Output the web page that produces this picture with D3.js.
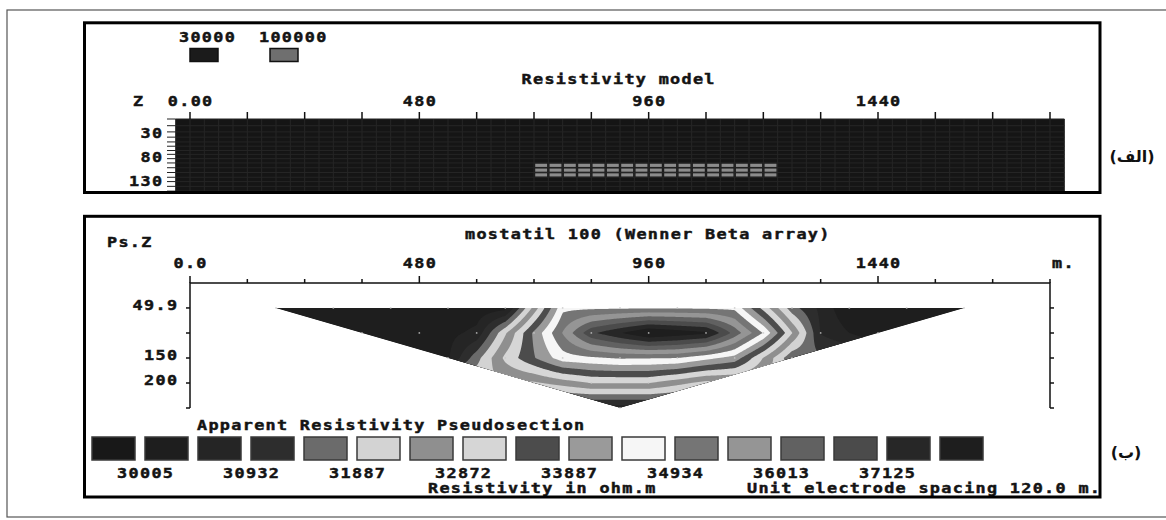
<!DOCTYPE html>
<html><head><meta charset="utf-8">
<script src="https://cdn.jsdelivr.net/npm/d3@7"></script>
<style>html,body{margin:0;padding:0;background:#fff;overflow:hidden}</style>
</head><body>
<svg id="c" width="1166" height="520"></svg>
<script>
// ---------------- DATA ----------------
// (a) Resistivity model
const modelXLabelValues = [0, 480, 960, 1440];
const modelXLabels = ["0.00", "480", "960", "1440"];
const modelDepthLabelValues = [30, 80, 130];
const modelDepthLabels = ["30", "80", "130"];
const modelLayerDepths = [0, 14, 27, 38, 48, 57, 66, 74, 83, 92, 102, 112, 122, 131, 141, 151];
const modelLegendLabels = ["30000", "100000"];
const modelLegendColors = ["#1b1b1b", "#6f6f6f"];
const blockXRange = [720, 1230];      // m, high-resistivity block
const blockDepthRange = [92, 122];    // m

// (b) Apparent resistivity pseudosection (Wenner Beta, a = 120 m)
const psLevelDepths = [49.9, 99.8, 149.8, 199.7, 249.6];
const level1Pos = [180, 300, 420, 540, 660, 780, 900, 1020, 1140, 1260, 1380, 1500, 1620];
const level1Res = [30010, 30010, 30015, 30030, 30300, 34800, 34850, 34870, 34800, 31600, 30030, 30015, 30010];
const level2Pos = [360, 480, 600, 720, 840, 960, 1080, 1200, 1320, 1440];
const level2Res = [30010, 30030, 30600, 34000, 37000, 38300, 37800, 34900, 30900, 30030];
const level3Pos = [540, 660, 780, 900, 1020, 1140, 1260];
const level3Res = [30400, 33000, 34700, 35000, 34950, 34200, 31500];
const level4Pos = [720, 840, 960, 1080];
const level4Res = [32300, 32900, 32900, 32200];
const level5Pos = [900];
const level5Res = [30700];
const psDepthTickValues = [49.9, 100, 150, 200, 250];
const psDepthLabelValues = [49.9, 150, 200];
const psDepthLabels = ["49.9", "150", "200"];
const psXLabelValues = [0, 480, 960, 1440];
const psXLabels = ["0.0", "480", "960", "1440"];

// colour legend
const legendBounds = [30005, 30465, 30932, 31406, 31887, 32376, 32872, 33376, 33887, 34406, 34934, 35469, 36013, 36565, 37125, 37694];
const legendLabels = ["30005", "30932", "31887", "32872", "33887", "34934", "36013", "37125"];
const swatchColors = ["#181818", "#1e1e1e", "#252525", "#2d2d2d", "#6b6b6b", "#d3d3d3", "#8f8f8f", "#d6d6d6",
  "#4c4c4c", "#9a9a9a", "#f6f6f6", "#757575", "#959595", "#616161", "#4b4b4b", "#272727", "#1e1e1e"];

// ---------------- DRAW ----------------
const svg = d3.select("#c");
const defs = svg.append("defs");
const FONT = "'DejaVu Sans Mono', monospace";
const FS = 14, SX = 1.2, LS = 1.1;
function label(sel, s, x, y, anchor = "start") {
  const dx = anchor === "middle" ? LS / 2 : anchor === "end" ? LS : 0;
  return sel.append("text").attr("transform", `translate(${x},${y}) scale(${SX},1)`)
    .attr("x", dx).attr("y", 0).attr("text-anchor", anchor)
    .attr("font-family", FONT).attr("font-weight", "bold").attr("font-size", FS)
    .attr("letter-spacing", LS).attr("fill", "#141414")
    .attr("stroke", "#141414").attr("stroke-width", 0.45).text(s);
}

// outer frame
svg.append("rect").attr("x", 7).attr("y", 10).attr("width", 1200).attr("height", 507)
  .attr("fill", "none").attr("stroke", "#555").attr("stroke-width", 1.2);

const xs = d3.scaleLinear().domain([0, 1800]).range([190, 1050]);
const modelY = d3.scaleLinear().domain([0, 150]).range([119, 119 + 150 * 0.4777]);
const psY = d3.scaleLinear().domain([0, 250]).range([283, 408]);

// ===== Panel (a) =====
const ga = svg.append("g");
defs.append("clipPath").attr("id", "clipA")
  .append("rect").attr("x", 86).attr("y", 24).attr("width", 1012).attr("height", 167);
const grid = ga.append("g").attr("clip-path", "url(#clipA)");
const colEdges = d3.range(-30, 1831, 30);
grid.append("rect").attr("x", xs(-30)).attr("y", modelY(0))
  .attr("width", xs(1830) - xs(-30)).attr("height", modelY(155) - modelY(0)).attr("fill", "#151515");
grid.selectAll("line.v").data(colEdges).join("line")
  .attr("x1", d => xs(d)).attr("x2", d => xs(d)).attr("y1", modelY(0)).attr("y2", modelY(155))
  .attr("stroke", "#262626").attr("stroke-width", 1);
grid.selectAll("line.h").data(modelLayerDepths).join("line")
  .attr("x1", xs(-30)).attr("x2", xs(1830)).attr("y1", d => modelY(d)).attr("y2", d => modelY(d))
  .attr("stroke", "#252525").attr("stroke-width", 1);
// high resistivity block
const blockCols = d3.range(blockXRange[0], blockXRange[1], 30);
const blockRows = modelLayerDepths.filter(d => d >= blockDepthRange[0] && d < blockDepthRange[1]);
blockRows.forEach(d0 => {
  const d1 = modelLayerDepths[modelLayerDepths.indexOf(d0) + 1];
  grid.selectAll(null).data(blockCols).join("rect")
    .attr("x", u => xs(u) + 1.2).attr("width", u => xs(u + 30) - xs(u) - 2.4)
    .attr("y", modelY(d0) + 0.8).attr("height", modelY(d1) - modelY(d0) - 1.6)
    .attr("fill", "#8c8c8c");
});
// top ticks
ga.selectAll("line.t").data(d3.range(0, 1801, 120)).join("line")
  .attr("x1", d => xs(d)).attr("x2", d => xs(d)).attr("y1", 112).attr("y2", modelY(0))
  .attr("stroke", "#111").attr("stroke-width", 1.5);
// left depth ticks
ga.selectAll("line.l").data(modelLayerDepths).join("line")
  .attr("x1", 167).attr("x2", xs(-30)).attr("y1", d => modelY(d)).attr("y2", d => modelY(d))
  .attr("stroke", "#222").attr("stroke-width", 1);
// labels
label(ga, "Z", 133, 106);
modelXLabelValues.forEach((v, i) => label(ga, modelXLabels[i], xs(v), 106, "middle"));
modelDepthLabelValues.forEach((v, i) => label(ga, modelDepthLabels[i], 162, modelY(v) + 5, "end"));
label(ga, "Resistivity model", 618, 84, "middle");
// model legend
const legX = [190, 270];
modelLegendLabels.forEach((s, i) => {
  label(ga, s, legX[i] - 11, 42);
  ga.append("rect").attr("x", legX[i]).attr("y", 48.5).attr("width", 28).attr("height", 13)
    .attr("fill", modelLegendColors[i]).attr("stroke", "#111").attr("stroke-width", 1.5);
});
// panel border
ga.append("rect").attr("x", 84.5).attr("y", 22.8).attr("width", 1015.5).attr("height", 169.7)
  .attr("fill", "none").attr("stroke", "#000").attr("stroke-width", 3);
svg.append("text").attr("x", 1132).attr("y", 162).attr("text-anchor", "middle")
  .attr("font-family", "'DejaVu Sans', sans-serif").attr("font-weight", "bold").attr("font-size", 16)
  .attr("fill", "#111").text("(الف)");

// ===== Panel (b) =====
const gb = svg.append("g");
const levels = [[level1Pos, level1Res], [level2Pos, level2Res], [level3Pos, level3Res], [level4Pos, level4Res], [level5Pos, level5Res]];
const levelFns = levels.map(([pos, res]) => pos.length > 1
  ? d3.scaleLinear().domain(pos).range(res).clamp(true)
  : () => res[0]);
const pts = [];
levels.forEach(([pos, res], li) => pos.forEach((u, i) => pts.push({ px: xs(u), py: psY(psLevelDepths[li]), v: res[i] })));

const gx0 = Math.floor(xs(d3.min(level1Pos))) - 2, gx1 = Math.ceil(xs(d3.max(level1Pos))) + 2;
const gy0 = Math.floor(psY(psLevelDepths[0])) - 2, gy1 = Math.ceil(psY(psLevelDepths[4])) + 2;
const nx = gx1 - gx0 + 1, ny = gy1 - gy0 + 1;
const field = new Float64Array(nx * ny);
for (let j = 0; j < ny; j++) {
  let d = psY.invert(gy0 + j);
  d = Math.max(psLevelDepths[0], Math.min(psLevelDepths[4], d));
  let k = 0;
  while (k < psLevelDepths.length - 2 && d > psLevelDepths[k + 1]) k++;
  const t = (d - psLevelDepths[k]) / (psLevelDepths[k + 1] - psLevelDepths[k]);
  for (let i = 0; i < nx; i++) {
    const u = xs.invert(gx0 + i);
    field[j * nx + i] = (1 - t) * levelFns[k](u) + t * levelFns[k + 1](u);
  }
}
const tri = [[xs(d3.min(level1Pos)), psY(psLevelDepths[0])], [xs(d3.max(level1Pos)), psY(psLevelDepths[0])],
  [xs(level5Pos[0]), psY(psLevelDepths[4])]];
defs.append("clipPath").attr("id", "clipTri").append("polygon").attr("points", tri.map(p => p.join(",")).join(" "));
const gc = gb.append("g").attr("clip-path", "url(#clipTri)");
gc.append("polygon").attr("points", tri.map(p => p.join(",")).join(" ")).attr("fill", swatchColors[0]);
const contours = d3.contours().size([nx, ny]).thresholds(legendBounds)(field);
const cpath = d3.geoPath(d3.geoIdentity().translate([gx0 - 0.5, gy0 - 0.5]));
gc.selectAll("path").data(contours).join("path").attr("d", cpath)
  .attr("fill", (d, i) => swatchColors[i + 1]);
gb.selectAll("circle.pt").data(pts).join("circle").attr("cx", d => d.px).attr("cy", d => d.py).attr("r", 0.9)
  .attr("fill", "#c8c8c8").attr("opacity", 0.8);

// axes
gb.append("path").attr("d", `M${xs(0)},${psY(250)}V${psY(0)}H${xs(1800)}V${psY(250)}`)
  .attr("fill", "none").attr("stroke", "#111").attr("stroke-width", 1.5);
gb.selectAll("line.xt").data(d3.range(0, 1801, 120)).join("line")
  .attr("x1", d => xs(d)).attr("x2", d => xs(d)).attr("y1", d => psY(0) - (d % 480 === 0 ? 7 : 4)).attr("y2", psY(0))
  .attr("stroke", "#111").attr("stroke-width", 1.5);
gb.selectAll("line.yl").data(psDepthTickValues).join("line")
  .attr("x1", xs(0) - 4).attr("x2", xs(0)).attr("y1", d => psY(d)).attr("y2", d => psY(d))
  .attr("stroke", "#111").attr("stroke-width", 1.5);
gb.selectAll("line.yr").data(psDepthTickValues).join("line")
  .attr("x1", xs(1800)).attr("x2", xs(1800) + 4).attr("y1", d => psY(d)).attr("y2", d => psY(d))
  .attr("stroke", "#111").attr("stroke-width", 1.5);
psXLabelValues.forEach((v, i) => label(gb, psXLabels[i], xs(v), 268, "middle"));
label(gb, "m.", xs(1800) + 2, 268);
psDepthLabelValues.forEach((v, i) => label(gb, psDepthLabels[i], 177, psY(v) + 2, "end"));
label(gb, "Ps.Z", 107, 247);
label(gb, "mostatil 100 (Wenner Beta array)", 465, 239);
label(gb, "Apparent Resistivity Pseudosection", 197, 430);

// colour legend
const sw = d3.scaleLinear().domain([0, 17]).range([92, 92 + 53 * 17]);
gb.selectAll("rect.sw").data(swatchColors).join("rect")
  .attr("x", (d, i) => sw(i)).attr("y", 437).attr("width", 43).attr("height", 23)
  .attr("fill", d => d).attr("stroke", "#3a3a3a").attr("stroke-width", 1.5);
legendLabels.forEach((s, k) => label(gb, s, sw(2 * k + 1), 477.5, "middle"));
label(gb, "Resistivity in ohm.m", 428, 493);
label(gb, "Unit electrode spacing 120.0 m.", 747, 493);

gb.append("rect").attr("x", 84.5).attr("y", 216.3).attr("width", 1015.5).attr("height", 280.7)
  .attr("fill", "none").attr("stroke", "#000").attr("stroke-width", 3);
svg.append("text").attr("x", 1126).attr("y", 458).attr("text-anchor", "middle")
  .attr("font-family", "'DejaVu Sans', sans-serif").attr("font-weight", "bold").attr("font-size", 16)
  .attr("fill", "#111").text("(ب)");
</script>
</body></html>
